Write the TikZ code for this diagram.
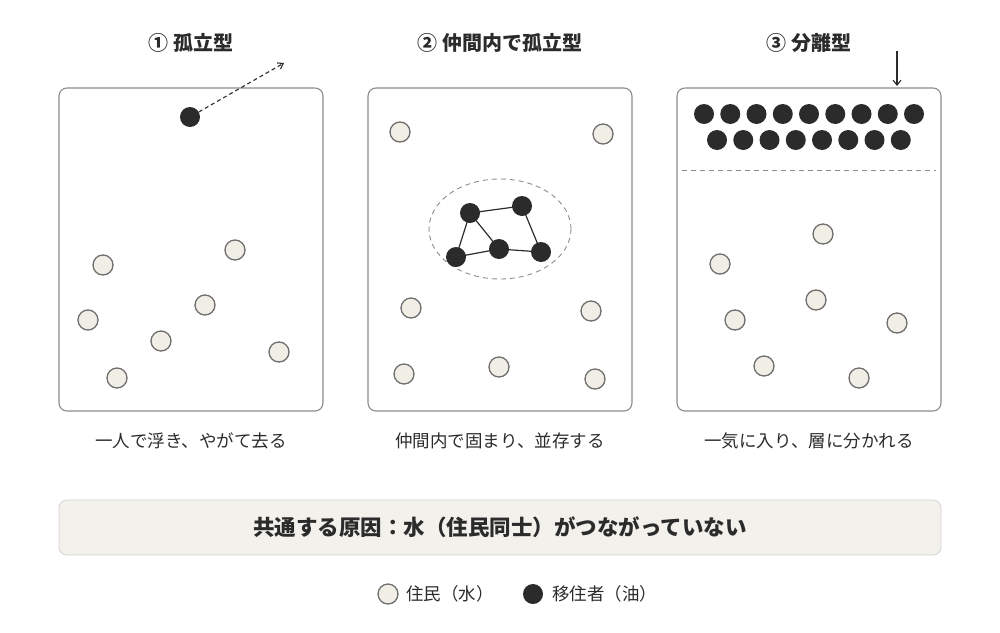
\documentclass[tikz,border=0pt]{standalone}
\usepackage{fontspec}
\setmainfont{Noto Sans CJK JP}
\usetikzlibrary{arrows.meta}
\definecolor{ink}{HTML}{2B2B2B}
\definecolor{wfill}{HTML}{F1EEE6}
\definecolor{wline}{HTML}{6E6E6E}
\definecolor{frame}{HTML}{8C8C8C}
\definecolor{boxfill}{HTML}{F3F1EC}
\definecolor{boxline}{HTML}{D6D3CC}
\begin{document}
\begin{tikzpicture}[x=1pt,y=-1pt,
  panel/.style={draw=frame,line width=1.1pt,rounded corners=8pt},
  res/.style={circle,draw=wline,line width=1.3pt,fill=wfill,minimum size=20pt,inner sep=0pt},
  mig/.style={circle,fill=ink,minimum size=20pt,inner sep=0pt},
  ttl/.style={font=\bfseries\fontsize{20}{22}\selectfont,text=ink},
  captxt/.style={font=\fontsize{17.5}{19}\selectfont,text=ink},
  lnk/.style={draw=ink,line width=1.2pt},
  sep/.style={draw=frame,line width=0.9pt,dash pattern=on 5pt off 4pt}]
\useasboundingbox (0,0) rectangle (1000,632);
% titles
\node[ttl] (t1) at (191,43) {① 孤立型};
\node[ttl] (t2) at (500,43) {② 仲間内で孤立型};
\node[ttl] (t3) at (809,43) {③ 分離型};
% panels
\draw[panel] (59,88) rectangle (323,411);
\draw[panel] (368,88) rectangle (632,411);
\draw[panel] (677,88) rectangle (941,411);
% panel 1
\foreach \n/\x/\y in {a/103/265,b/235/250,c/88/320,d/205/305,e/161/341,f/279/352,g/117/378}
  \node[res] (p1\n) at (\x,\y) {};
\node[mig] (m1) at (190,117) {};
\coordinate (m1end) at (284,63);
\draw[ink,line width=1.1pt,dash pattern=on 4pt off 3pt,-{Straight Barb[length=5pt,width=7pt]}] (m1) -- (m1end);
% panel 2
\foreach \n/\x/\y in {a/400/132,b/603/134,c/411/308,d/591/311,e/404/374,f/499/367,g/595/379}
  \node[res] (p2\n) at (\x,\y) {};
\draw[sep] (500,229) ellipse [x radius=71pt,y radius=50pt];
\coordinate (g1) at (470,213);
\coordinate (g2) at (522,206);
\coordinate (g3) at (456,257);
\coordinate (g4) at (499,249);
\coordinate (g5) at (541,252);
\draw[lnk] (g1) -- (g2);
\draw[lnk] (g1) -- (g3);
\draw[lnk] (g1) -- (g4);
\draw[lnk] (g3) -- (g4);
\draw[lnk] (g4) -- (g5);
\draw[lnk] (g2) -- (g5);
\foreach \k in {1,...,5}
  \node[mig] (n\k) at (g\k) {};
% panel 3
\foreach \i in {0,...,8}
  \node[mig] (r1\i) at ({704+26.25*\i},114) {};
\foreach \i in {0,...,7}
  \node[mig] (r2\i) at ({717+26.25*\i},140) {};
\coordinate (sl) at (682,170);
\coordinate (sr) at (936,170);
\draw[sep] (sl) -- (sr);
\coordinate (ar0) at (897,51);
\coordinate (ar1) at (897,86);
\draw[ink,line width=1.1pt,-{Straight Barb[length=5pt,width=8pt]}] (ar0) -- (ar1);
\foreach \n/\x/\y in {a/720/264,b/823/234,c/735/320,d/816/300,e/897/323,f/764/366,g/859/378}
  \node[res] (p3\n) at (\x,\y) {};
% captions
\node[captxt] (c1) at (191,441) {一人で浮き、やがて去る};
\node[captxt] (c2) at (500,441) {仲間内で固まり、並存する};
\node[captxt] (c3) at (809,441) {一気に入り、層に分かれる};
% bottom box
\draw[draw=boxline,fill=boxfill,line width=0.8pt,rounded corners=8pt] (59,500) rectangle (941,555);
\node[font=\bfseries\fontsize{21.5}{23}\selectfont,text=ink] (cause) at (500,527) {共通する原因：水（住民同士）がつながっていない};
% legend
\node[res,minimum size=20pt] (lw) at (388,594) {};
\node[captxt,anchor=west,inner sep=0pt] (lwt) at (406,594) {住民（水）};
\node[mig,minimum size=20pt] (lb) at (533,594) {};
\node[captxt,anchor=west,inner sep=0pt] (lbt) at (552,594) {移住者（油）};
\end{tikzpicture}
\end{document}
